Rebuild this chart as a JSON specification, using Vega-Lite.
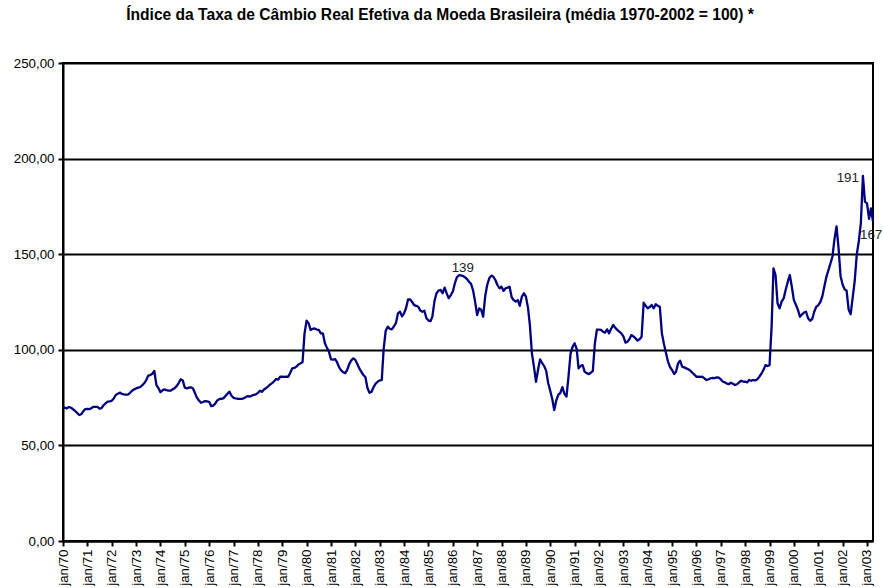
{
  "$schema": "https://vega.github.io/schema/vega-lite/v6.json",
  "width": 810,
  "height": 478,
  "autosize": {"type": "none"},
  "padding": {"left": 63, "top": 63, "right": 10, "bottom": 47},
  "background": "white",
  "title": {
    "text": "Índice da Taxa de Câmbio Real Efetiva da Moeda Brasileira (média 1970-2002 = 100) *",
    "font": "Liberation Sans",
    "fontSize": 15.6,
    "fontWeight": "bold",
    "color": "black",
    "anchor": "middle",
    "frame": "group",
    "dx": -28,
    "offset": 32
  },
  "config": {
    "font": "Liberation Sans",
    "view": {"stroke": "black", "strokeWidth": 2},
    "axis": {
      "domainColor": "black",
      "domainWidth": 2,
      "tickColor": "black",
      "tickWidth": 2,
      "tickSize": 5,
      "labelColor": "black",
      "labelFont": "Liberation Sans",
      "labelFontSize": 13.33,
      "title": null
    }
  },
  "data": {
    "values": [
      {"m":"1970-01","v":70.2},{"m":"1970-02","v":69.6},{"m":"1970-03","v":69.4},{"m":"1970-04","v":70.1},{"m":"1970-05","v":69.7},{"m":"1970-06","v":68.9},{"m":"1970-07","v":68.0},{"m":"1970-08","v":67.0},{"m":"1970-09","v":65.9},{"m":"1970-10","v":66.3},{"m":"1970-11","v":67.8},{"m":"1970-12","v":69.0},
      {"m":"1971-01","v":69.1},{"m":"1971-02","v":69.0},{"m":"1971-03","v":69.4},{"m":"1971-04","v":70.2},{"m":"1971-05","v":70.1},{"m":"1971-06","v":70.2},{"m":"1971-07","v":69.2},{"m":"1971-08","v":69.5},{"m":"1971-09","v":71.0},{"m":"1971-10","v":72.0},{"m":"1971-11","v":72.9},{"m":"1971-12","v":73.0},
      {"m":"1972-01","v":73.3},{"m":"1972-02","v":74.5},{"m":"1972-03","v":76.4},{"m":"1972-04","v":77.0},{"m":"1972-05","v":77.6},{"m":"1972-06","v":77.0},{"m":"1972-07","v":76.7},{"m":"1972-08","v":76.6},{"m":"1972-09","v":76.6},{"m":"1972-10","v":77.5},{"m":"1972-11","v":78.6},{"m":"1972-12","v":79.3},
      {"m":"1973-01","v":79.8},{"m":"1973-02","v":80.2},{"m":"1973-03","v":80.5},{"m":"1973-04","v":81.4},{"m":"1973-05","v":82.5},{"m":"1973-06","v":84.0},{"m":"1973-07","v":86.5},{"m":"1973-08","v":86.8},{"m":"1973-09","v":87.5},{"m":"1973-10","v":88.9},{"m":"1973-11","v":81.6},{"m":"1973-12","v":80.0},
      {"m":"1974-01","v":77.8},{"m":"1974-02","v":78.8},{"m":"1974-03","v":79.3},{"m":"1974-04","v":78.9},{"m":"1974-05","v":78.7},{"m":"1974-06","v":78.6},{"m":"1974-07","v":79.3},{"m":"1974-08","v":79.9},{"m":"1974-09","v":81.0},{"m":"1974-10","v":82.6},{"m":"1974-11","v":84.6},{"m":"1974-12","v":84.0},
      {"m":"1975-01","v":80.2},{"m":"1975-02","v":79.8},{"m":"1975-03","v":80.2},{"m":"1975-04","v":80.4},{"m":"1975-05","v":79.9},{"m":"1975-06","v":77.5},{"m":"1975-07","v":75.0},{"m":"1975-08","v":73.5},{"m":"1975-09","v":72.3},{"m":"1975-10","v":72.7},{"m":"1975-11","v":73.2},{"m":"1975-12","v":73.0},
      {"m":"1976-01","v":72.8},{"m":"1976-02","v":70.5},{"m":"1976-03","v":70.8},{"m":"1976-04","v":71.8},{"m":"1976-05","v":73.5},{"m":"1976-06","v":74.2},{"m":"1976-07","v":74.4},{"m":"1976-08","v":74.6},{"m":"1976-09","v":75.8},{"m":"1976-10","v":77.0},{"m":"1976-11","v":78.1},{"m":"1976-12","v":76.0},
      {"m":"1977-01","v":74.9},{"m":"1977-02","v":74.6},{"m":"1977-03","v":74.4},{"m":"1977-04","v":74.3},{"m":"1977-05","v":74.3},{"m":"1977-06","v":74.6},{"m":"1977-07","v":75.2},{"m":"1977-08","v":75.8},{"m":"1977-09","v":75.5},{"m":"1977-10","v":76.0},{"m":"1977-11","v":76.4},{"m":"1977-12","v":76.7},
      {"m":"1978-01","v":77.5},{"m":"1978-02","v":78.6},{"m":"1978-03","v":78.0},{"m":"1978-04","v":79.2},{"m":"1978-05","v":79.9},{"m":"1978-06","v":80.8},{"m":"1978-07","v":81.8},{"m":"1978-08","v":82.6},{"m":"1978-09","v":83.5},{"m":"1978-10","v":84.7},{"m":"1978-11","v":84.4},{"m":"1978-12","v":85.9},
      {"m":"1979-01","v":85.9},{"m":"1979-02","v":85.8},{"m":"1979-03","v":86.0},{"m":"1979-04","v":85.9},{"m":"1979-05","v":88.0},{"m":"1979-06","v":90.3},{"m":"1979-07","v":90.5},{"m":"1979-08","v":91.2},{"m":"1979-09","v":92.3},{"m":"1979-10","v":92.9},{"m":"1979-11","v":93.5},{"m":"1979-12","v":108.6},
      {"m":"1980-01","v":115.2},{"m":"1980-02","v":113.8},{"m":"1980-03","v":110.4},{"m":"1980-04","v":111.0},{"m":"1980-05","v":111.2},{"m":"1980-06","v":110.6},{"m":"1980-07","v":110.4},{"m":"1980-08","v":108.6},{"m":"1980-09","v":108.6},{"m":"1980-10","v":103.4},{"m":"1980-11","v":101.0},{"m":"1980-12","v":99.0},
      {"m":"1981-01","v":95.0},{"m":"1981-02","v":94.8},{"m":"1981-03","v":95.2},{"m":"1981-04","v":93.5},{"m":"1981-05","v":91.0},{"m":"1981-06","v":89.2},{"m":"1981-07","v":88.3},{"m":"1981-08","v":87.8},{"m":"1981-09","v":89.5},{"m":"1981-10","v":92.5},{"m":"1981-11","v":94.5},{"m":"1981-12","v":95.5},
      {"m":"1982-01","v":94.7},{"m":"1982-02","v":92.5},{"m":"1982-03","v":90.3},{"m":"1982-04","v":88.5},{"m":"1982-05","v":86.8},{"m":"1982-06","v":85.6},{"m":"1982-07","v":80.0},{"m":"1982-08","v":77.5},{"m":"1982-09","v":78.1},{"m":"1982-10","v":80.5},{"m":"1982-11","v":82.3},{"m":"1982-12","v":83.3},
      {"m":"1983-01","v":84.0},{"m":"1983-02","v":84.2},{"m":"1983-03","v":100.5},{"m":"1983-04","v":110.0},{"m":"1983-05","v":112.1},{"m":"1983-06","v":111.0},{"m":"1983-07","v":110.7},{"m":"1983-08","v":112.2},{"m":"1983-09","v":114.0},{"m":"1983-10","v":119.0},{"m":"1983-11","v":119.9},{"m":"1983-12","v":117.5},
      {"m":"1984-01","v":119.1},{"m":"1984-02","v":122.0},{"m":"1984-03","v":126.4},{"m":"1984-04","v":126.3},{"m":"1984-05","v":125.0},{"m":"1984-06","v":123.4},{"m":"1984-07","v":123.0},{"m":"1984-08","v":122.5},{"m":"1984-09","v":120.5},{"m":"1984-10","v":119.9},{"m":"1984-11","v":120.4},{"m":"1984-12","v":116.5},
      {"m":"1985-01","v":115.3},{"m":"1985-02","v":115.0},{"m":"1985-03","v":117.5},{"m":"1985-04","v":125.5},{"m":"1985-05","v":129.5},{"m":"1985-06","v":131.0},{"m":"1985-07","v":131.3},{"m":"1985-08","v":129.6},{"m":"1985-09","v":132.5},{"m":"1985-10","v":129.5},{"m":"1985-11","v":127.0},{"m":"1985-12","v":128.5},
      {"m":"1986-01","v":130.5},{"m":"1986-02","v":134.8},{"m":"1986-03","v":137.8},{"m":"1986-04","v":139.0},{"m":"1986-05","v":138.9},{"m":"1986-06","v":138.6},{"m":"1986-07","v":138.0},{"m":"1986-08","v":137.0},{"m":"1986-09","v":135.6},{"m":"1986-10","v":134.5},{"m":"1986-11","v":131.0},{"m":"1986-12","v":125.2},
      {"m":"1987-01","v":118.2},{"m":"1987-02","v":121.7},{"m":"1987-03","v":121.0},{"m":"1987-04","v":117.3},{"m":"1987-05","v":128.0},{"m":"1987-06","v":134.0},{"m":"1987-07","v":137.4},{"m":"1987-08","v":138.8},{"m":"1987-09","v":138.2},{"m":"1987-10","v":136.5},{"m":"1987-11","v":133.9},{"m":"1987-12","v":132.2},
      {"m":"1988-01","v":133.0},{"m":"1988-02","v":130.8},{"m":"1988-03","v":132.2},{"m":"1988-04","v":132.5},{"m":"1988-05","v":133.0},{"m":"1988-06","v":127.5},{"m":"1988-07","v":126.0},{"m":"1988-08","v":125.2},{"m":"1988-09","v":126.0},{"m":"1988-10","v":123.0},{"m":"1988-11","v":127.8},{"m":"1988-12","v":129.6},
      {"m":"1989-01","v":127.8},{"m":"1989-02","v":122.0},{"m":"1989-03","v":113.0},{"m":"1989-04","v":98.0},{"m":"1989-05","v":91.2},{"m":"1989-06","v":83.3},{"m":"1989-07","v":89.4},{"m":"1989-08","v":95.0},{"m":"1989-09","v":93.0},{"m":"1989-10","v":91.5},{"m":"1989-11","v":89.0},{"m":"1989-12","v":82.5},
      {"m":"1990-01","v":78.5},{"m":"1990-02","v":74.0},{"m":"1990-03","v":68.5},{"m":"1990-04","v":73.5},{"m":"1990-05","v":76.4},{"m":"1990-06","v":77.5},{"m":"1990-07","v":80.5},{"m":"1990-08","v":77.0},{"m":"1990-09","v":75.5},{"m":"1990-10","v":86.0},{"m":"1990-11","v":98.0},{"m":"1990-12","v":101.5},
      {"m":"1991-01","v":103.4},{"m":"1991-02","v":100.5},{"m":"1991-03","v":90.3},{"m":"1991-04","v":91.5},{"m":"1991-05","v":92.0},{"m":"1991-06","v":88.5},{"m":"1991-07","v":87.8},{"m":"1991-08","v":87.3},{"m":"1991-09","v":88.0},{"m":"1991-10","v":89.0},{"m":"1991-11","v":103.5},{"m":"1991-12","v":110.5},
      {"m":"1992-01","v":110.6},{"m":"1992-02","v":110.4},{"m":"1992-03","v":109.5},{"m":"1992-04","v":109.0},{"m":"1992-05","v":110.7},{"m":"1992-06","v":108.6},{"m":"1992-07","v":111.0},{"m":"1992-08","v":113.0},{"m":"1992-09","v":111.5},{"m":"1992-10","v":110.4},{"m":"1992-11","v":109.5},{"m":"1992-12","v":108.6},
      {"m":"1993-01","v":107.0},{"m":"1993-02","v":103.7},{"m":"1993-03","v":104.2},{"m":"1993-04","v":105.5},{"m":"1993-05","v":107.7},{"m":"1993-06","v":107.0},{"m":"1993-07","v":106.0},{"m":"1993-08","v":104.8},{"m":"1993-09","v":105.5},{"m":"1993-10","v":106.8},{"m":"1993-11","v":124.6},{"m":"1993-12","v":123.0},
      {"m":"1994-01","v":121.7},{"m":"1994-02","v":122.5},{"m":"1994-03","v":123.4},{"m":"1994-04","v":121.7},{"m":"1994-05","v":123.8},{"m":"1994-06","v":123.0},{"m":"1994-07","v":122.5},{"m":"1994-08","v":108.6},{"m":"1994-09","v":103.0},{"m":"1994-10","v":98.5},{"m":"1994-11","v":93.8},{"m":"1994-12","v":91.0},
      {"m":"1995-01","v":89.4},{"m":"1995-02","v":87.3},{"m":"1995-03","v":88.5},{"m":"1995-04","v":92.9},{"m":"1995-05","v":94.3},{"m":"1995-06","v":91.2},{"m":"1995-07","v":90.8},{"m":"1995-08","v":90.3},{"m":"1995-09","v":89.8},{"m":"1995-10","v":89.1},{"m":"1995-11","v":88.0},{"m":"1995-12","v":87.0},
      {"m":"1996-01","v":85.9},{"m":"1996-02","v":86.0},{"m":"1996-03","v":85.8},{"m":"1996-04","v":85.9},{"m":"1996-05","v":85.0},{"m":"1996-06","v":84.2},{"m":"1996-07","v":84.6},{"m":"1996-08","v":85.1},{"m":"1996-09","v":85.3},{"m":"1996-10","v":85.2},{"m":"1996-11","v":85.6},{"m":"1996-12","v":85.4},
      {"m":"1997-01","v":84.5},{"m":"1997-02","v":83.3},{"m":"1997-03","v":83.0},{"m":"1997-04","v":82.3},{"m":"1997-05","v":82.0},{"m":"1997-06","v":82.8},{"m":"1997-07","v":82.2},{"m":"1997-08","v":81.6},{"m":"1997-09","v":82.0},{"m":"1997-10","v":83.0},{"m":"1997-11","v":83.8},{"m":"1997-12","v":83.4},
      {"m":"1998-01","v":83.3},{"m":"1998-02","v":83.0},{"m":"1998-03","v":84.2},{"m":"1998-04","v":83.8},{"m":"1998-05","v":84.2},{"m":"1998-06","v":84.0},{"m":"1998-07","v":84.6},{"m":"1998-08","v":85.9},{"m":"1998-09","v":87.5},{"m":"1998-10","v":89.4},{"m":"1998-11","v":92.0},{"m":"1998-12","v":91.5},
      {"m":"1999-01","v":92.0},{"m":"1999-02","v":112.1},{"m":"1999-03","v":142.6},{"m":"1999-04","v":139.1},{"m":"1999-05","v":124.3},{"m":"1999-06","v":121.7},{"m":"1999-07","v":125.2},{"m":"1999-08","v":126.9},{"m":"1999-09","v":131.5},{"m":"1999-10","v":135.5},{"m":"1999-11","v":139.1},{"m":"1999-12","v":133.0},
      {"m":"2000-01","v":126.0},{"m":"2000-02","v":123.4},{"m":"2000-03","v":121.0},{"m":"2000-04","v":117.3},{"m":"2000-05","v":118.5},{"m":"2000-06","v":119.5},{"m":"2000-07","v":119.9},{"m":"2000-08","v":116.5},{"m":"2000-09","v":115.2},{"m":"2000-10","v":116.0},{"m":"2000-11","v":119.9},{"m":"2000-12","v":122.5},
      {"m":"2001-01","v":123.4},{"m":"2001-02","v":125.0},{"m":"2001-03","v":127.8},{"m":"2001-04","v":133.0},{"m":"2001-05","v":138.0},{"m":"2001-06","v":141.5},{"m":"2001-07","v":145.0},{"m":"2001-08","v":148.7},{"m":"2001-09","v":158.0},{"m":"2001-10","v":164.5},{"m":"2001-11","v":153.0},{"m":"2001-12","v":138.5},
      {"m":"2002-01","v":134.0},{"m":"2002-02","v":131.5},{"m":"2002-03","v":131.0},{"m":"2002-04","v":121.0},{"m":"2002-05","v":118.6},{"m":"2002-06","v":127.5},{"m":"2002-07","v":136.0},{"m":"2002-08","v":150.0},{"m":"2002-09","v":157.0},{"m":"2002-10","v":166.2},{"m":"2002-11","v":191.0},{"m":"2002-12","v":177.5},
      {"m":"2003-01","v":176.6},{"m":"2003-02","v":168.5},{"m":"2003-03","v":174.0},{"m":"2003-04","v":167.0}
    ],
    "format": {"parse": {"m": "utc:'%Y-%m'"}}
  },
  "encoding": {
    "x": {
      "field": "m",
      "type": "temporal",
      "scale": {
        "type": "utc",
        "domain": [
          {"year": 1970, "month": 1, "date": 1, "utc": true},
          {"year": 2003, "month": 4, "date": 1, "utc": true}
        ]
      },
      "axis": {
        "grid": false,
        "tickCount": {"interval": "year", "step": 1},
        "labelExpr": "'jan/' + utcFormat(datum.value, '%y')",
        "labelAngle": -90,
        "labelAlign": "right",
        "labelBaseline": "middle",
        "labelPadding": 3,
        "labelOverlap": false,
        "labelFlush": false
      }
    },
    "y": {
      "field": "v",
      "type": "quantitative",
      "scale": {"domain": [0, 250], "nice": false, "zero": true},
      "axis": {
        "values": [0, 50, 100, 150, 200, 250],
        "grid": true,
        "gridColor": "black",
        "gridWidth": 2,
        "gridOpacity": 1,
        "labelPadding": 4,
        "labelExpr": "replace(format(datum.value, '.2f'), '.', ',')"
      }
    }
  },
  "layer": [
    {
      "mark": {"type": "line", "color": "#000080", "strokeWidth": 2.3, "strokeJoin": "round"}
    },
    {
      "transform": [{"filter": "utcyear(datum.m) == 1986 && utcmonth(datum.m) == 3"}],
      "mark": {"type": "text", "align": "center", "baseline": "alphabetic", "dx": 4, "dy": -3, "fontSize": 13.33, "color": "#222222"},
      "encoding": {"text": {"field": "v", "type": "quantitative", "format": ".0f"}}
    },
    {
      "transform": [{"filter": "utcyear(datum.m) == 2002 && utcmonth(datum.m) == 10"}],
      "mark": {"type": "text", "align": "right", "baseline": "alphabetic", "dx": -4, "dy": 6, "fontSize": 13.33, "color": "#222222"},
      "encoding": {"text": {"field": "v", "type": "quantitative", "format": ".0f"}}
    },
    {
      "transform": [{"filter": "utcyear(datum.m) == 2003 && utcmonth(datum.m) == 3"}],
      "mark": {"type": "text", "align": "left", "baseline": "alphabetic", "dx": -13, "dy": 17, "fontSize": 13.33, "color": "#222222"},
      "encoding": {"text": {"field": "v", "type": "quantitative", "format": ".0f"}}
    }
  ]
}
